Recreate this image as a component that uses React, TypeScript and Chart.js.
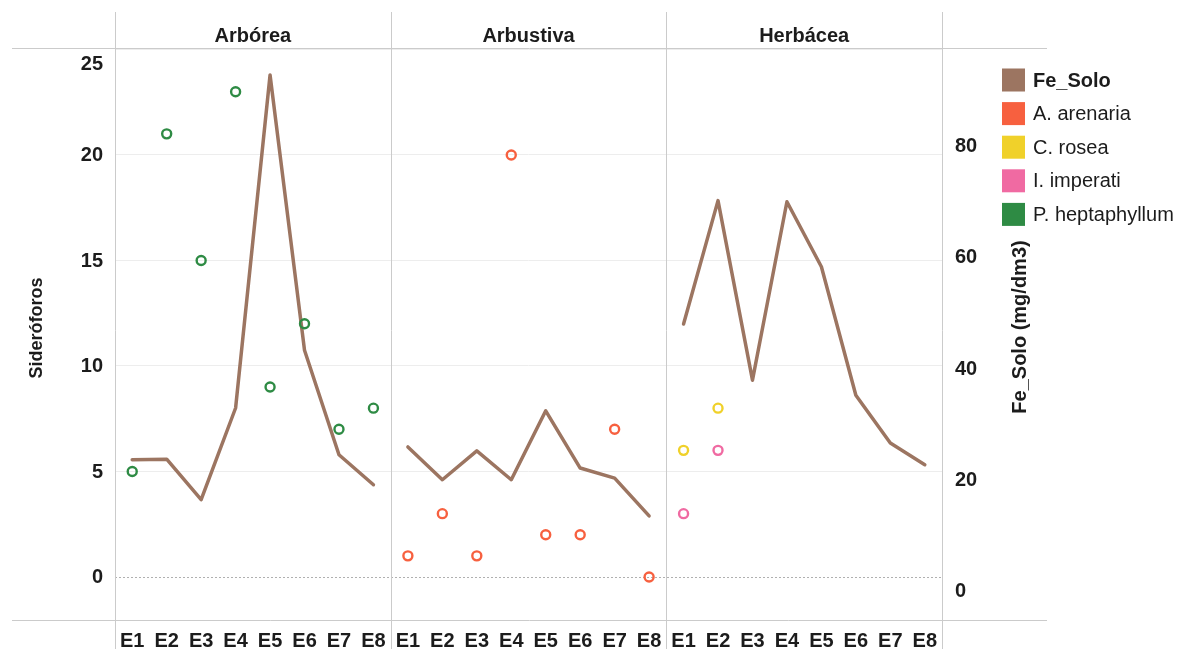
import React, { useEffect, useRef } from "react";
import { Chart, registerables } from "chart.js";

Chart.register(...registerables);

// ---------- data ----------
const PANELS = ["Arbórea", "Arbustiva", "Herbácea"];
const STATIONS = ["E1", "E2", "E3", "E4", "E5", "E6", "E7", "E8"];

// Fe_Solo (mg/dm3), right axis, one list per panel
const FE_ARBOREA = [23.7, 23.8, 16.5, 33.0, 92.9, 43.4, 24.6, 19.2];
const FE_ARBUSTIVA = [26.0, 20.1, 25.3, 20.1, 32.5, 22.2, 20.4, 13.6];
const FE_HERBACEA = [48.1, 70.3, 38.0, 70.1, 58.4, 35.3, 26.7, 22.8];

// Sideróforos, left axis
const P_HEPTAPHYLLUM = [5, 21, 15, 23, 9, 12, 7, 8]; // Arbórea
const A_ARENARIA = [1, 3, 1, 20, 2, 2, 7, 0]; // Arbustiva
const C_ROSEA = [6, 8, null, null, null, null, null, null]; // Herbácea
const I_IMPERATI = [3, 6, null, null, null, null, null, null]; // Herbácea

const LEFT_TICKS = [0, 5, 10, 15, 20, 25];
const RIGHT_TICKS = [0, 20, 40, 60, 80];

const LEGEND_LABELS = ["Fe_Solo", "A. arenaria", "C. rosea", "I. imperati", "P. heptaphyllum"];
const LEGEND_COLORS = ["#9c7561", "#f7603f", "#f0d12a", "#f06aa2", "#2e8b44"];

const FONT = "'Liberation Sans', Arial, sans-serif";
const TEXT = "#1c1c1c";
const FRAME = "#cbcbcb";

function inPanel(panel: number, values: (number | null)[]) {
  const arr: (number | null)[] = new Array(PANELS.length * STATIONS.length).fill(null);
  values.forEach((v, i) => {
    arr[panel * STATIONS.length + i] = v;
  });
  return arr;
}

function panelBounds(chart: any): number[] {
  const x = chart.scales.x;
  const ca = chart.chartArea;
  const b = [ca.left];
  for (let p = 1; p < PANELS.length; p++) {
    const i = p * STATIONS.length;
    b.push((x.getPixelForValue(i - 1) + x.getPixelForValue(i)) / 2);
  }
  b.push(ca.right);
  return b;
}

const decorPlugin = {
  id: "facetDecor",
  beforeDatasetsDraw(chart: any) {
    const { ctx, chartArea: ca, scales } = chart;
    const y = scales.y;
    ctx.save();
    // dotted zero line
    const y0 = Math.round(y.getPixelForValue(0)) + 0.5;
    ctx.strokeStyle = "#b0b0b0";
    ctx.lineWidth = 1;
    ctx.setLineDash([2, 2]);
    ctx.beginPath();
    ctx.moveTo(ca.left, y0);
    ctx.lineTo(ca.right, y0);
    ctx.stroke();
    ctx.setLineDash([]);
    // frame
    ctx.strokeStyle = FRAME;
    const hline = (yy: number) => {
      const p = Math.round(yy) + 0.5;
      ctx.beginPath();
      ctx.moveTo(12, p);
      ctx.lineTo(1047, p);
      ctx.stroke();
    };
    hline(ca.top);
    hline(ca.bottom);
    panelBounds(chart).forEach((bx) => {
      const p = Math.round(bx) + 0.5;
      ctx.beginPath();
      ctx.moveTo(p, 12);
      ctx.lineTo(p, chart.height);
      ctx.stroke();
    });
    ctx.restore();
  },
  afterDraw(chart: any) {
    const { ctx, scales } = chart;
    const y = scales.y;
    const b = panelBounds(chart);
    ctx.save();
    ctx.fillStyle = TEXT;
    // facet titles
    ctx.font = `bold 20px ${FONT}`;
    ctx.textAlign = "center";
    ctx.textBaseline = "alphabetic";
    PANELS.forEach((name, i) => {
      ctx.fillText(name, (b[i] + b[i + 1]) / 2, 42);
    });
    // left tick labels
    ctx.font = `bold 20px ${FONT}`;
    ctx.textAlign = "right";
    ctx.textBaseline = "middle";
    y.ticks.forEach((t: any) => {
      const py = Math.max(y.getPixelForValue(t.value), 63);
      ctx.fillText(String(t.value), 103, py + 1);
    });
    // axis titles
    ctx.font = `bold 18px ${FONT}`;
    ctx.save();
    ctx.translate(37, 328);
    ctx.rotate(-Math.PI / 2);
    ctx.textAlign = "center";
    ctx.fillText("Sideróforos", 0, 0);
    ctx.restore();
    ctx.font = `bold 20px ${FONT}`;
    ctx.save();
    ctx.translate(1020, 327);
    ctx.rotate(-Math.PI / 2);
    ctx.textAlign = "center";
    ctx.fillText("Fe_Solo (mg/dm3)", 0, 0);
    ctx.restore();
    // legend
    LEGEND_LABELS.forEach((lab, i) => {
      const cy = 80 + i * 33.6;
      ctx.fillStyle = LEGEND_COLORS[i];
      ctx.fillRect(1002, cy - 11.5, 23, 23);
      ctx.fillStyle = TEXT;
      ctx.font = i === 0 ? `bold 20px ${FONT}` : `20px ${FONT}`;
      ctx.textAlign = "left";
      ctx.textBaseline = "middle";
      ctx.fillText(lab, 1033, cy + 1);
    });
    ctx.restore();
  },
};

function pointSet(label: string, color: string, data: (number | null)[]) {
  return {
    type: "line" as const,
    label,
    data,
    yAxisID: "y",
    showLine: false,
    borderColor: color,
    backgroundColor: "rgba(0,0,0,0)",
    pointRadius: 4.5,
    pointBorderWidth: 2.4,
    pointHoverRadius: 4.5,
    order: 1,
  };
}

function feSet(data: (number | null)[]) {
  return {
    type: "line" as const,
    label: LEGEND_LABELS[0],
    data,
    yAxisID: "y1",
    borderColor: LEGEND_COLORS[0],
    borderWidth: 3.5,
    borderJoinStyle: "round",
    borderCapStyle: "round",
    pointRadius: 0,
    tension: 0,
    spanGaps: false,
    order: 2,
  };
}

export default function App() {
  const ref = useRef<HTMLCanvasElement | null>(null);
  useEffect(() => {
    if (!ref.current) return;
    const labels = PANELS.flatMap(() => STATIONS);
    const chart = new Chart(ref.current, {
      type: "line",
      data: {
        labels,
        datasets: [
          pointSet(LEGEND_LABELS[4], LEGEND_COLORS[4], inPanel(0, P_HEPTAPHYLLUM)),
          pointSet(LEGEND_LABELS[1], LEGEND_COLORS[1], inPanel(1, A_ARENARIA)),
          pointSet(LEGEND_LABELS[2], LEGEND_COLORS[2], inPanel(2, C_ROSEA)),
          pointSet(LEGEND_LABELS[3], LEGEND_COLORS[3], inPanel(2, I_IMPERATI)),
          feSet(inPanel(0, FE_ARBOREA)),
          feSet(inPanel(1, FE_ARBUSTIVA)),
          feSet(inPanel(2, FE_HERBACEA)),
        ],
      } as any,
      options: {
        animation: false,
        responsive: false,
        devicePixelRatio: 1,
        layout: { padding: { top: 48, left: 0, right: 0, bottom: 0 } },
        plugins: { legend: { display: false }, tooltip: { enabled: false } },
        scales: {
          x: {
            type: "category",
            offset: true,
            grid: { display: false, drawTicks: false },
            border: { display: false },
            ticks: {
              autoSkip: false,
              maxRotation: 0,
              padding: 9,
              color: TEXT,
              font: { family: FONT, size: 20, weight: "bold" },
            },
            afterFit: (s: any) => {
              s.height = 29;
            },
          },
          y: {
            position: "left",
            min: -2.04,
            max: 25.07,
            afterBuildTicks: (s: any) => {
              s.ticks = LEFT_TICKS.map((v) => ({ value: v }));
            },
            ticks: { display: false },
            grid: {
              drawTicks: false,
              lineWidth: 1,
              color: (c: any) => (c.tick && c.tick.value === 0 ? "rgba(0,0,0,0)" : "#ededed"),
            },
            border: { display: false },
            afterFit: (s: any) => {
              s.width = 115;
            },
          },
          y1: {
            position: "right",
            min: -5.13,
            max: 97.75,
            afterBuildTicks: (s: any) => {
              s.ticks = RIGHT_TICKS.map((v) => ({ value: v }));
            },
            ticks: {
              padding: 13,
              color: TEXT,
              font: { family: FONT, size: 20, weight: "bold" },
            },
            grid: { display: false, drawTicks: false },
            border: { display: false },
            afterFit: (s: any) => {
              s.width = 245;
            },
          },
        },
      } as any,
      plugins: [decorPlugin],
    });
    return () => chart.destroy();
  }, []);

  return (
    <div style={{ position: "fixed", left: 0, top: 0, width: 1187, height: 649, background: "#fff" }}>
      <canvas ref={ref} width={1187} height={649} style={{ display: "block", width: 1187, height: 649 }} />
    </div>
  );
}
